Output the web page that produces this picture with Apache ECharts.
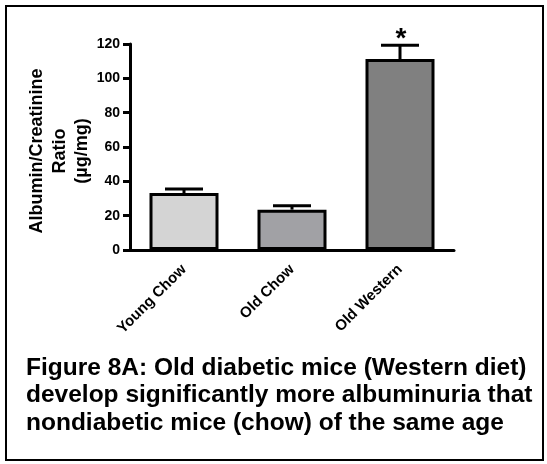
<!DOCTYPE html>
<html>
<head>
<meta charset="utf-8">
<script src="https://cdn.jsdelivr.net/npm/echarts@6/dist/echarts.min.js"></script>
<style>
  html, body { margin: 0; padding: 0; background: #fff; }
  #chart { width: 547px; height: 464px; }
</style>
</head>
<body>
<div id="chart"></div>
<script>
// Albumin/creatinine ratio by group (mean with SEM)
const categories = ['Young Chow', 'Old Chow', 'Old Western'];
const meanValues = [33.2, 23.5, 111.2];
const semValues = [2.4, 2.3, 8.0];
const significance = ['', '', '*'];
const barColors = ['#d4d4d4', '#a1a1a5', '#808080'];
const yTicks = { min: 0, max: 120, interval: 20 };
const yTitleLines = ['Albumin/Creatinine', 'Ratio', '(µg/mg)'];
const captionLines = [
  'Figure 8A: Old diabetic mice (Western diet)',
  'develop significantly more albuminuria that',
  'nondiabetic mice (chow) of the same age'
];

const FONT = 'Liberation Sans, Arial, sans-serif';
const chart = echarts.init(document.getElementById('chart'), null, { renderer: 'canvas' });

const errorData = categories.map((c, i) => [i, meanValues[i], semValues[i]]);

chart.setOption({
  animation: false,
  backgroundColor: '#ffffff',
  grid: { left: 130, right: 93, top: 44, bottom: 214, containLabel: false },
  xAxis: {
    type: 'category',
    data: categories,
    boundaryGap: true,
    axisLine: { lineStyle: { color: '#000', width: 3 } },
    axisTick: { alignWithLabel: true, length: 7, lineStyle: { color: '#000', width: 3 } },
    axisLabel: {
      rotate: 45, margin: 17, color: '#000',
      fontFamily: FONT, fontWeight: 'bold', fontSize: 15
    }
  },
  yAxis: {
    type: 'value',
    min: yTicks.min, max: yTicks.max, interval: yTicks.interval,
    splitLine: { show: false },
    axisLine: { show: true, lineStyle: { color: '#000', width: 3 } },
    axisTick: { show: true, length: 7, lineStyle: { color: '#000', width: 3 } },
    axisLabel: {
      margin: 10, color: '#000',
      fontFamily: FONT, fontWeight: 'bold', fontSize: 14
    }
  },
  series: [
    {
      type: 'bar',
      barWidth: 69,
      data: meanValues.map((v, i) => ({
        value: v,
        itemStyle: { color: barColors[i], borderColor: '#000', borderWidth: 3 }
      })),
      z: 2
    },
    {
      type: 'custom',
      z: 3,
      data: errorData,
      renderItem: function (params, api) {
        const idx = api.value(0);
        const mean = api.value(1);
        const sem = api.value(2);
        const mark = significance[params.dataIndex];
        const top = api.coord([idx, mean]);
        const hi = api.coord([idx, mean + sem]);
        const half = 19;
        const children = [
          { type: 'line', shape: { x1: top[0], y1: top[1], x2: hi[0], y2: hi[1] },
            style: { stroke: '#000', lineWidth: 3 } },
          { type: 'line', shape: { x1: hi[0] - half, y1: hi[1], x2: hi[0] + half, y2: hi[1] },
            style: { stroke: '#000', lineWidth: 3 } }
        ];
        if (mark) {
          // significance marker above the error cap
          children.push({
            type: 'text',
            style: {
              text: mark, x: hi[0] + 1, y: hi[1] - 6,
              align: 'center', verticalAlign: 'middle',
              fill: '#000', font: 'bold 28px ' + FONT
            }
          });
        }
        return { type: 'group', children: children };
      }
    }
  ],
  graphic: [
    {
      type: 'rect',
      shape: { x: 6, y: 6, width: 537, height: 454 },
      style: { fill: 'none', stroke: '#000', lineWidth: 2 },
      silent: true
    },
    {
      // vertical axis title, rotated to read bottom-to-top
      type: 'text',
      x: 60,
      y: 151,
      rotation: Math.PI / 2,
      style: {
        text: yTitleLines.join('\n'),
        fill: '#000',
        font: 'bold 18px ' + FONT,
        lineHeight: 22.5,
        align: 'center',
        verticalAlign: 'middle'
      }
    },
    {
      type: 'text',
      left: 26,
      top: 354,
      style: {
        text: captionLines.join('\n'),
        fill: '#000',
        font: 'bold 24.5px ' + FONT,
        lineHeight: 27.5
      }
    }
  ]
});
</script>
</body>
</html>
